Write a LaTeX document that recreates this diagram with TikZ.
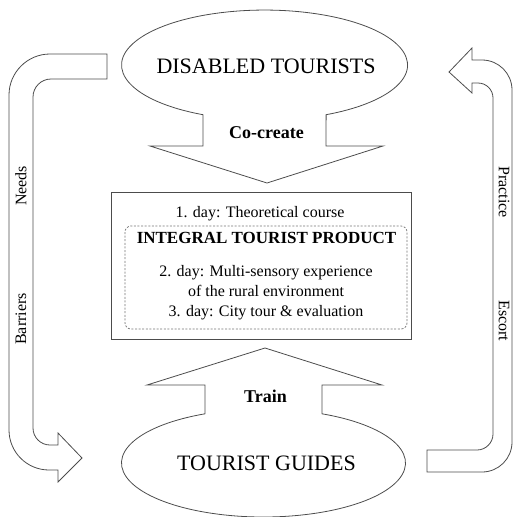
\documentclass[tikz,border=0pt]{standalone}
\usepackage{fontspec}
\setmainfont{Liberation Serif}
\begin{document}
\begin{tikzpicture}[x=1pt,y=-1pt,
  outline/.style={draw=black!70, line width=0.8pt, line join=miter},
  dashbox/.style={draw=black!55, line width=0.7pt, dash pattern=on 2pt off 1.6pt, rounded corners=6pt},
  big/.style={font=\fontsize{22}{26}\selectfont, inner sep=0pt, anchor=base},
  bold/.style={font=\fontsize{18}{21}\selectfont\bfseries, inner sep=0pt, anchor=base},
  txt/.style={font=\fontsize{16}{19}\selectfont, inner sep=0pt, anchor=base},
  side/.style={font=\fontsize{16}{19}\selectfont, inner sep=0pt}]
\useasboundingbox (0,0) rectangle (513,517);
\clip (0,0) rectangle (513,517);

% top callout: DISABLED TOURISTS
\draw[outline] (203,114.7) arc[start angle=115.5, end angle=424.5, x radius=143, y radius=55]
  -- (326,146) -- (383,146) -- (267,183) -- (150,146) -- (203,146) -- cycle;

% bottom callout: TOURIST GUIDES
\draw[outline] (205,413.8) -- (205,385) -- (147,385) -- (265,348) -- (382,385) -- (322,385) -- (322,413.8)
  arc[start angle=-65.67, end angle=245.67, x radius=142, y radius=54] -- cycle;

% central box
\draw[outline] (111,192) rectangle (411,339);
\draw[dashbox] (125,226) rectangle (407,329);

% left U-arrow
\draw[outline] (107,54) -- (50,54) .. controls (27.4,54) and (9,72.4) .. (9,95)
  -- (9,430) .. controls (9,452.1) and (26.9,470) .. (49,470)
  -- (58,470) -- (58,482) -- (82,458) -- (58,433) -- (58,445) -- (50,445)
  .. controls (40.6,445) and (33,437.4) .. (33,428)
  -- (33,97) .. controls (33,87.1) and (41.1,79) .. (51,79)
  -- (107,79) -- cycle;

% right U-arrow
\draw[outline] (472,60) -- (482,60) .. controls (498.6,60) and (512,73.4) .. (512,90)
  -- (512,442) .. controls (512,458.6) and (498.6,472) .. (482,472)
  -- (427,472) -- (427,450) -- (477,450)
  .. controls (485.8,450) and (493,442.8) .. (493,434)
  -- (493,98) .. controls (493,89.7) and (486.3,83) .. (478,83)
  -- (472,83) -- (472,93) -- (449,72) -- (472,48) -- cycle;

% texts
\node[big] (dt) at (266,73) {DISABLED TOURISTS};
\node[big] (tg) at (266.5,470) {TOURIST GUIDES};
\node[bold] (cc) at (266.5,138) {Co-create};
\node[bold] (tr) at (265.5,402) {Train};
\node[txt] (d1) at (260,217) {1. day: Theoretical course};
\node[font=\fontsize{17}{20}\selectfont\bfseries, inner sep=0pt, anchor=base] (itp) at (266.5,243) {INTEGRAL TOURIST PRODUCT};
\node[txt] (d2) at (266,276) {2. day: Multi-sensory experience};
\node[txt] (d2b) at (266,296) {of the rural environment};
\node[txt] (d3) at (266,316) {3. day: City tour \& evaluation};

\node[side, rotate=90] (needs) at (21,186) {Needs};
\node[side, rotate=90] (barr) at (21,319) {Barriers};
\node[side, rotate=-90] (prac) at (504,192) {Practice};
\node[side, rotate=-90] (esc) at (504,321) {Escort};
\end{tikzpicture}
\end{document}
